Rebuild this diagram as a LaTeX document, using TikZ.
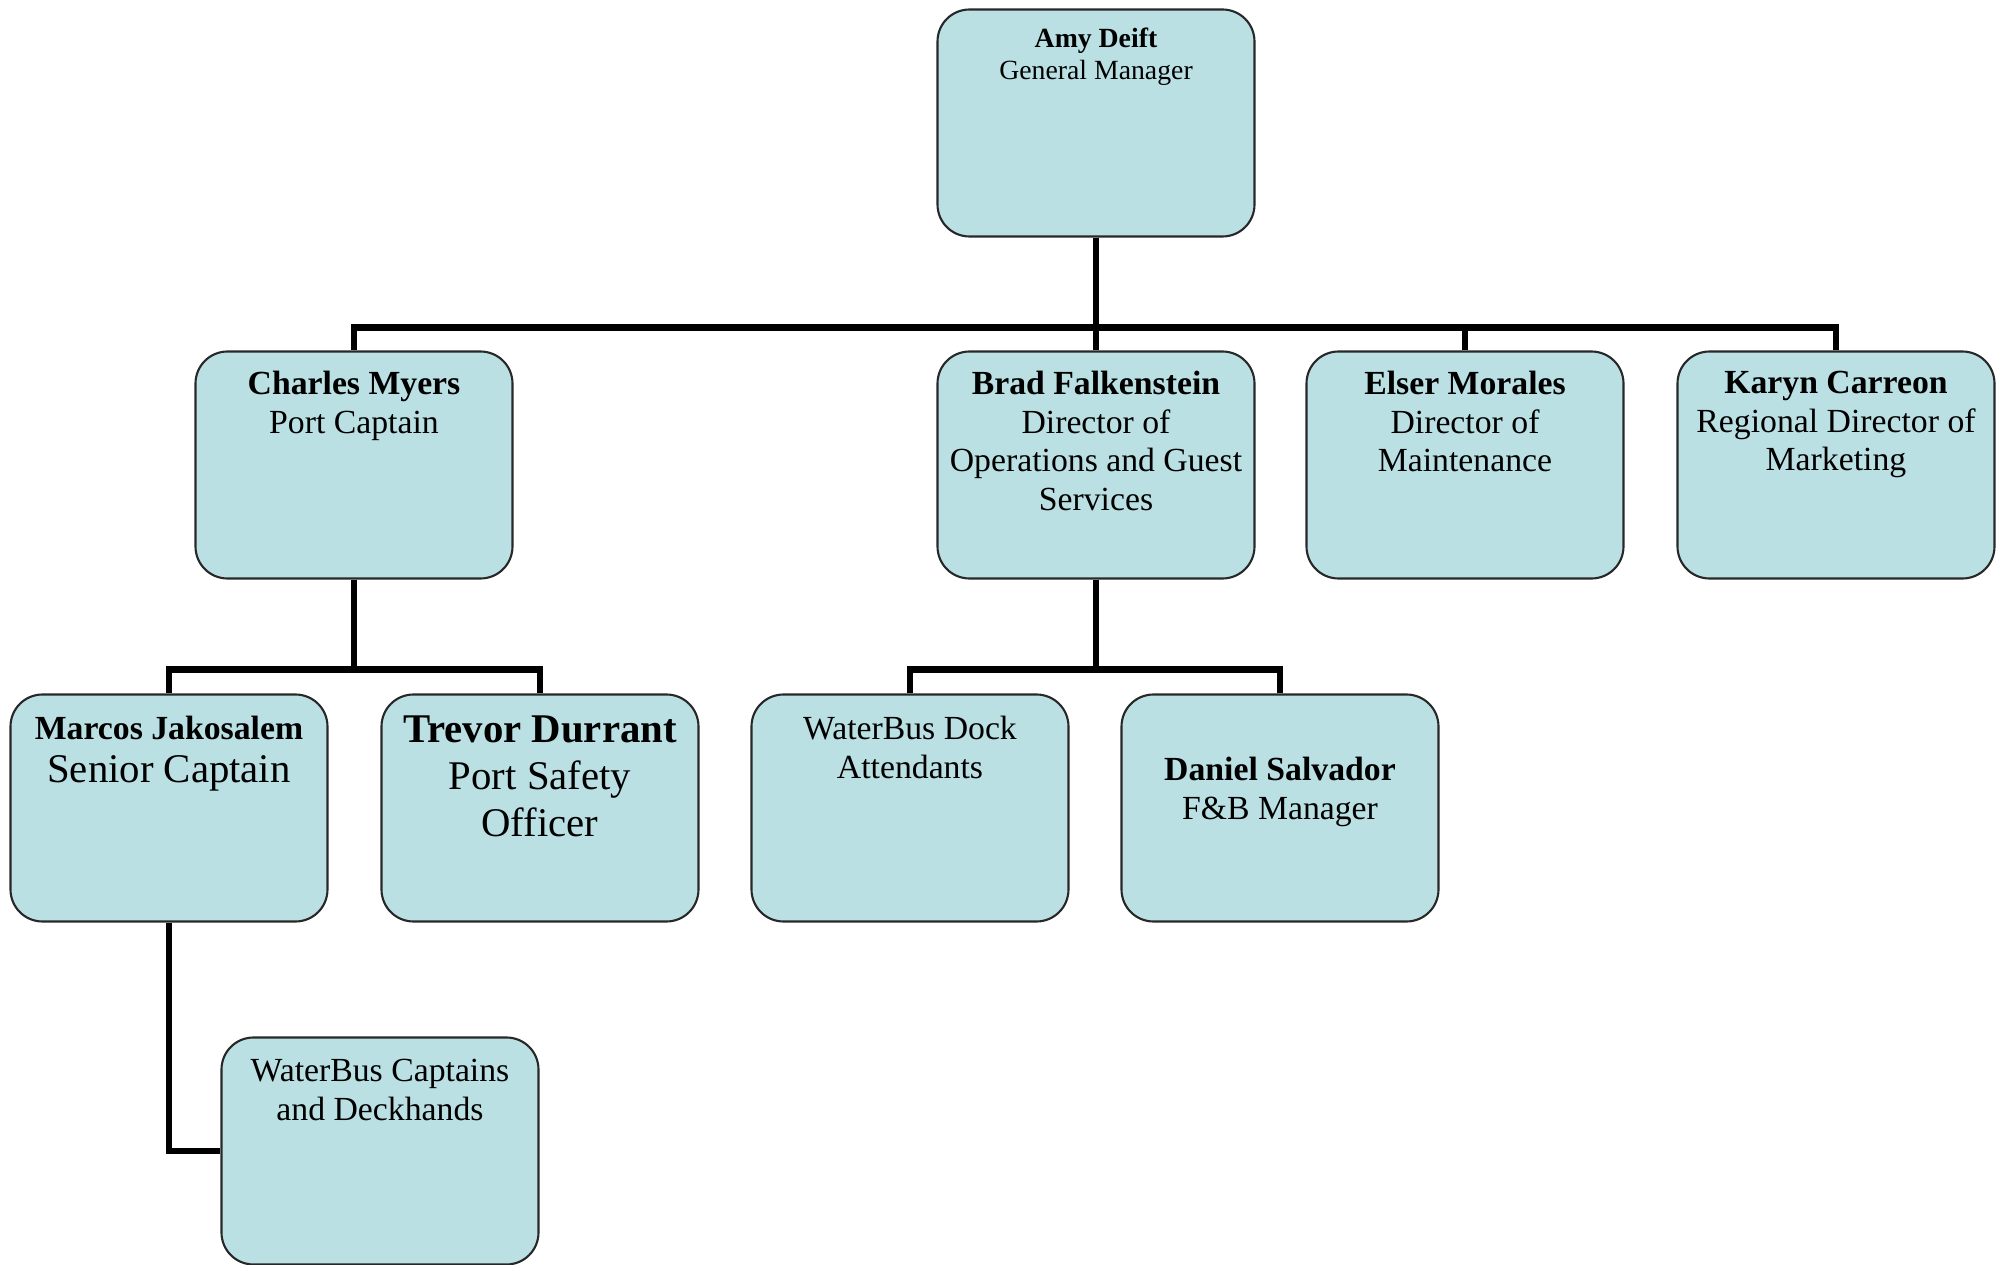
\documentclass[tikz,border=0pt]{standalone}
\usepackage{fontspec}
\setmainfont{Liberation Serif}
\usetikzlibrary{positioning}
\definecolor{boxfill}{RGB}{186,224,227}
\definecolor{boxline}{RGB}{40,40,40}
\tikzset{
  unit/.style={rectangle,rounded corners=3.2mm,draw=boxline,line width=0.6pt,
               fill=boxfill,minimum width=3.17cm,minimum height=2.27cm,
               inner sep=0pt},
  title/.style={align=center,inner sep=0pt,font=\fontsize{9.6}{11}\selectfont},
  link/.style={line width=1.8pt,black},
}
\begin{document}
\begin{tikzpicture}
    \useasboundingbox (0,0) rectangle (20.05,-12.65);

    % boxes
    \node[unit] (gm) at (10.96,-1.23)  {};
    \node[unit] (cm) at (3.54,-4.65)   {};
    \node[unit] (bf) at (10.96,-4.65)  {};
    \node[unit] (em) at (14.65,-4.65)  {};
    \node[unit] (kc) at (18.36,-4.65)  {};
    \node[unit] (mj) at (1.69,-8.08)   {};
    \node[unit] (td) at (5.40,-8.08)   {};
    \node[unit] (da) at (9.10,-8.08)   {};
    \node[unit] (ds) at (12.80,-8.08)  {};
    \node[unit] (wc) at (3.80,-11.51)  {};

    % texts
    \node[title,font=\fontsize{7.9}{9.1}\selectfont,below=1.9mm of gm.north] (gm-t)
        {\textbf{Amy Deift}\\General Manager};
    \node[title,below=2mm of cm.north] (cm-t) {\textbf{Charles Myers}\\Port Captain};
    \node[title,below=2mm of bf.north] (bf-t)
        {\textbf{Brad Falkenstein}\\Director of\\Operations and Guest\\Services};
    \node[title,below=2mm of em.north] (em-t)
        {\textbf{Elser Morales}\\Director of\\Maintenance};
    \node[title,below=2mm of kc.north] (kc-t)
        {\textbf{Karyn Carreon}\\Regional Director of\\Marketing};
    \node[title,below=2.2mm of mj.north] (mj-t)
        {\textbf{Marcos Jakosalem}\\[1.2pt]{\fontsize{11.6}{13.2}\selectfont Senior Captain}};
    \node[title,font=\fontsize{11.6}{13.3}\selectfont,below=2.2mm of td.north] (td-t)
        {\textbf{Trevor Durrant}\\Port Safety\\Officer};
    \node[title,below=2.2mm of da.north] (da-t) {WaterBus Dock\\Attendants};
    \node[title,below=6.3mm of ds.north] (ds-t) {\textbf{Daniel Salvador}\\F\&B Manager};
    \node[title,below=2.2mm of wc.north] (wc-t) {WaterBus Captains\\and Deckhands};

    % links
    \foreach \b in {cm,bf,em,kc}
      \draw[link] (gm.south) -- ++(0,-0.9) -| (\b.north);
    \foreach \b in {mj,td}
      \draw[link] (cm.south) -- ++(0,-0.9) -| (\b.north);
    \foreach \b in {da,ds}
      \draw[link] (bf.south) -- ++(0,-0.9) -| (\b.north);
    \draw[link] (mj.south) |- (wc.west);

\end{tikzpicture}
\end{document}
